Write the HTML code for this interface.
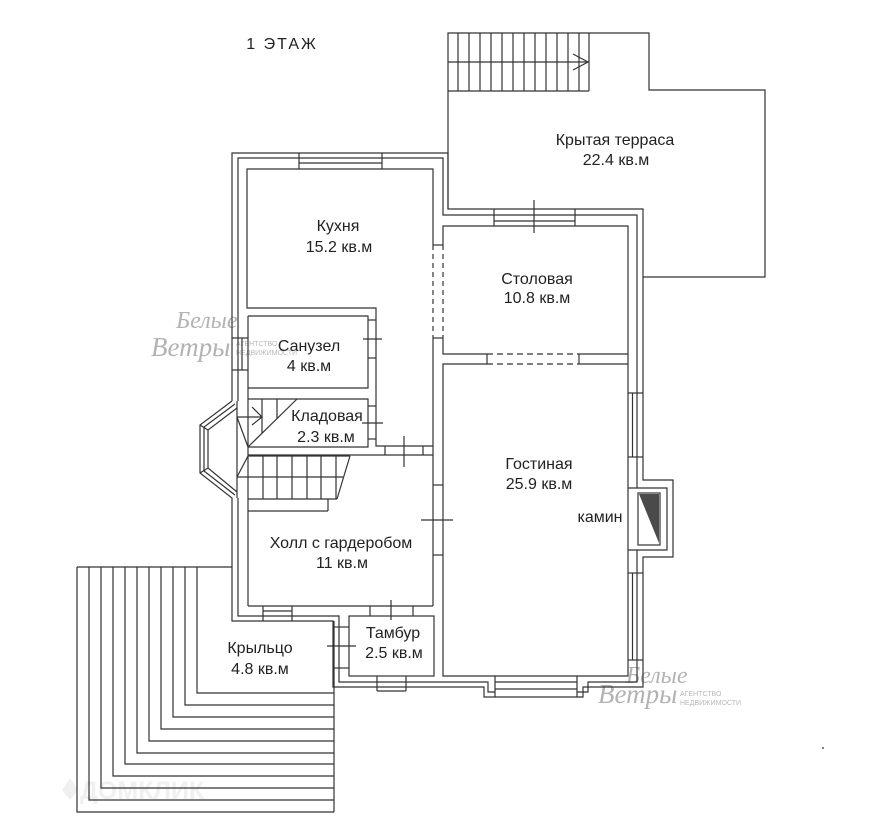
<!DOCTYPE html>
<html><head><meta charset="utf-8">
<style>
html,body{margin:0;padding:0;background:#fff;}
svg{display:block}
.t{font-family:"Liberation Sans","DejaVu Sans",sans-serif;fill:#222;font-size:16px;}
.wm{font-family:"Liberation Serif","DejaVu Serif",serif;font-style:italic;fill:#b3b3b3;}
.wms{font-family:"Liberation Sans","DejaVu Sans",sans-serif;fill:#b8b8b8;font-size:7px;}
</style></head><body>
<svg width="886" height="830" viewBox="0 0 886 830" xmlns="http://www.w3.org/2000/svg">

<!-- watermarks (behind) -->
<g>
  <text class="wm" x="176" y="328" font-size="24">Белые</text>
  <text class="wm" x="151" y="356" font-size="27">Ветры</text>
  <text class="wms" x="236" y="346">АГЕНТСТВО</text>
  <text class="wms" x="236" y="355">НЕДВИЖИМОСТИ</text>
  <text class="wm" x="626" y="683" font-size="24">Белые</text>
  <text class="wm" x="598" y="703" font-size="27">Ветры</text>
  <text class="wms" x="680" y="696">АГЕНТСТВО</text>
  <text class="wms" x="680" y="705">НЕДВИЖИМОСТИ</text>
  <text x="80" y="799" font-family="Liberation Sans, sans-serif" font-weight="bold" font-size="25" fill="#f0f0f0">ДОМКЛИК</text>
  <path d="M62,790 L70,778 L78,790 L70,800 Z" fill="#f0f0f0"/>
  <circle cx="823" cy="748" r="1" fill="#555"/>
</g>

<g fill="none" stroke="#333" stroke-width="1.2">
  <!-- terrace -->
  <polyline points="448,209 448,33 649,33 649,90 765,90 765,277 643,277"/>
  <line x1="448" y1="91" x2="589" y2="91"/>
  <line x1="448" y1="62" x2="589" y2="62"/>
  <line x1="458" y1="33" x2="458" y2="91"/>
  <line x1="469" y1="33" x2="469" y2="91"/>
  <line x1="480" y1="33" x2="480" y2="91"/>
  <line x1="491" y1="33" x2="491" y2="91"/>
  <line x1="502" y1="33" x2="502" y2="91"/>
  <line x1="513" y1="33" x2="513" y2="91"/>
  <line x1="524" y1="33" x2="524" y2="91"/>
  <line x1="535" y1="33" x2="535" y2="91"/>
  <line x1="546" y1="33" x2="546" y2="91"/>
  <line x1="557" y1="33" x2="557" y2="91"/>
  <line x1="568" y1="33" x2="568" y2="91"/>
  <line x1="579" y1="33" x2="579" y2="91"/>
  <line x1="589" y1="33" x2="589" y2="91"/>
  <polyline points="573,54 588,62 573,70"/>

  <!-- outer wall line A -->
  <polyline points="232,401 232,153 448,153 448,209 643,209 643,480 673,480 673,557 643,557 643,687 583,687 583,697 484,697 484,687 333,687 333,621 232,621 232,498 200,473 200,425 232,401"/>
  <!-- line B -->
  <polyline points="238,401 238,158 443,158 443,215 637,215 637,488"/>
  <polyline points="637,550 637,682 588,682 588,692 577,692"/>
  <polyline points="495,692 488,692 488,682 339,682 339,616 238,616 238,498"/>

  <!-- bay window -->
  <polyline points="235,404 204,427 204,471 235,495"/>
  <polyline points="237,408 208,430 208,468 237,492"/>
  <line x1="237" y1="401" x2="237" y2="498"/>
  <line x1="200" y1="425" x2="208" y2="430"/>
  <line x1="200" y1="473" x2="208" y2="468"/>

  <!-- kitchen -->
  <polyline points="433,245 433,169 247,169 247,308 376,308 376,446 433,446"/>
  <line x1="433" y1="338" x2="433" y2="606"/>
  <line x1="433" y1="245" x2="433" y2="338" stroke-dasharray="5,4"/>
  <line x1="443" y1="245" x2="443" y2="338" stroke-dasharray="5,4"/>
  <line x1="433" y1="245" x2="443" y2="245"/>
  <line x1="433" y1="338" x2="443" y2="338"/>

  <!-- stolovaya / gostinaya -->
  <polyline points="443,245 443,226 628,226 628,676 443,676 443,364 487,364"/>
  <polyline points="579,354 628,354"/>
  <polyline points="487,354 443,354 443,338"/>
  <line x1="579" y1="364" x2="628" y2="364"/>
  <line x1="487" y1="354" x2="579" y2="354" stroke-dasharray="6,4"/>
  <line x1="487" y1="364" x2="579" y2="364" stroke-dasharray="6,4"/>
  <line x1="487" y1="354" x2="487" y2="364"/>
  <line x1="579" y1="354" x2="579" y2="364"/>

  <!-- sanuzel, kladovaya -->
  <line x1="248" y1="316" x2="248" y2="606"/>
  <polyline points="248,316 368,316 368,388 248,388"/>
  <polyline points="248,399 368,399 368,447 248,447"/>
  <!-- hall -->
  <line x1="248" y1="455" x2="433" y2="455"/>
  <line x1="248" y1="606" x2="433" y2="606"/>
  <line x1="248" y1="511" x2="328" y2="511"/>
  <line x1="328" y1="499" x2="328" y2="511"/>
  <!-- tambur -->
  <rect x="349" y="616" width="85" height="60"/>

  <!-- stairs upper -->
  <line x1="297" y1="399" x2="248" y2="447"/>
  <line x1="262" y1="399" x2="262" y2="433"/>
  <line x1="277" y1="399" x2="277" y2="419"/>
  <line x1="237" y1="417" x2="262" y2="417"/>
  <line x1="237" y1="417" x2="248" y2="447"/>
  <polyline points="252,407 262,417 252,425"/>
  <!-- stairs lower -->
  <line x1="248" y1="456" x2="350" y2="456"/>
  <line x1="237" y1="477" x2="343" y2="477"/>
  <line x1="248" y1="499" x2="337" y2="499"/>
  <line x1="350" y1="456" x2="337" y2="499"/>
  <line x1="248" y1="456" x2="237" y2="477"/>
  <line x1="263" y1="456" x2="263" y2="499"/>
  <line x1="277" y1="456" x2="277" y2="499"/>
  <line x1="292" y1="456" x2="292" y2="499"/>
  <line x1="307" y1="456" x2="307" y2="499"/>
  <line x1="321" y1="456" x2="321" y2="499"/>
  <line x1="336" y1="456" x2="336" y2="499"/>

  <!-- doors -->
  <line x1="368" y1="320" x2="376" y2="320"/>
  <line x1="368" y1="358" x2="376" y2="358"/>
  <line x1="363" y1="339" x2="382" y2="339"/>
  <line x1="368" y1="406" x2="376" y2="406"/>
  <line x1="368" y1="439" x2="376" y2="439"/>
  <line x1="362" y1="423" x2="383" y2="423"/>
  <line x1="385" y1="446" x2="385" y2="455"/>
  <line x1="423" y1="446" x2="423" y2="455"/>
  <line x1="404" y1="436" x2="404" y2="467"/>
  <line x1="433" y1="485" x2="443" y2="485"/>
  <line x1="433" y1="555" x2="443" y2="555"/>
  <line x1="421" y1="520" x2="453" y2="520"/>
  <line x1="370" y1="606" x2="370" y2="616"/>
  <line x1="413" y1="606" x2="413" y2="616"/>
  <line x1="391" y1="600" x2="391" y2="620"/>
  <line x1="333" y1="627" x2="349" y2="627"/>
  <line x1="333" y1="668" x2="349" y2="668"/>
  <line x1="327" y1="646" x2="356" y2="646"/>

  <!-- windows -->
  <line x1="299" y1="153" x2="299" y2="169"/>
  <line x1="382" y1="153" x2="382" y2="169"/>
  <line x1="299" y1="163" x2="382" y2="163"/>
  <line x1="494" y1="209" x2="494" y2="226"/>
  <line x1="575" y1="209" x2="575" y2="226"/>
  <line x1="494" y1="221" x2="575" y2="221"/>
  <line x1="534" y1="200" x2="534" y2="233"/>
  <line x1="232" y1="338" x2="248" y2="338"/>
  <line x1="232" y1="370" x2="248" y2="370"/>
  <line x1="242" y1="338" x2="242" y2="370"/>
  <line x1="263" y1="606" x2="263" y2="621"/>
  <line x1="292" y1="606" x2="292" y2="621"/>
  <line x1="263" y1="611" x2="292" y2="611"/>
  <line x1="377" y1="676" x2="377" y2="691"/>
  <line x1="406" y1="676" x2="406" y2="691"/>
  <line x1="377" y1="691" x2="406" y2="691"/>
  <line x1="495" y1="676" x2="495" y2="697"/>
  <line x1="577" y1="676" x2="577" y2="697"/>
  <line x1="495" y1="682" x2="577" y2="682"/>
  <line x1="495" y1="689" x2="577" y2="689"/>
  <line x1="628" y1="393" x2="643" y2="393"/>
  <line x1="628" y1="457" x2="643" y2="457"/>
  <line x1="632.5" y1="393" x2="632.5" y2="457"/>
  <line x1="628" y1="573" x2="643" y2="573"/>
  <line x1="628" y1="660" x2="643" y2="660"/>
  <line x1="632.5" y1="573" x2="632.5" y2="660"/>

  <!-- fireplace -->
  <polyline points="628,488 667,488 667,550 628,550"/>
  <rect x="638" y="493" width="22" height="52"/>

  <!-- porch steps -->
  <line x1="77" y1="567" x2="232" y2="567"/>
  <line x1="334" y1="621" x2="334" y2="812"/>
  <polyline points="197,567 197,693 334,693"/>
  <polyline points="185,567 185,705 334,705"/>
  <polyline points="173,567 173,717 334,717"/>
  <polyline points="161,567 161,729 334,729"/>
  <polyline points="149,567 149,741 334,741"/>
  <polyline points="137,567 137,753 334,753"/>
  <polyline points="125,567 125,764 334,764"/>
  <polyline points="113,567 113,776 334,776"/>
  <polyline points="101,567 101,788 334,788"/>
  <polyline points="89,567 89,800 334,800"/>
  <polyline points="77,567 77,812 334,812"/>
</g>
<polygon points="639,494 659,494 659,543" fill="#4a4a4a"/>

<!-- labels -->
<text class="t" x="282" y="49" font-size="22" letter-spacing="2" text-anchor="middle">1 ЭТАЖ</text>
<text class="t" x="615" y="145" text-anchor="middle">Крытая терраса</text>
<text class="t" x="616" y="165" text-anchor="middle">22.4 кв.м</text>
<text class="t" x="338" y="231" text-anchor="middle">Кухня</text>
<text class="t" x="339" y="252" text-anchor="middle">15.2 кв.м</text>
<text class="t" x="309" y="351" text-anchor="middle">Санузел</text>
<text class="t" x="309" y="371" text-anchor="middle">4 кв.м</text>
<text class="t" x="327" y="421" text-anchor="middle">Кладовая</text>
<text class="t" x="326" y="442" text-anchor="middle">2.3 кв.м</text>
<text class="t" x="341" y="548" text-anchor="middle">Холл с гардеробом</text>
<text class="t" x="342" y="568" text-anchor="middle">11 кв.м</text>
<text class="t" x="537" y="284" text-anchor="middle">Столовая</text>
<text class="t" x="537" y="303" text-anchor="middle">10.8 кв.м</text>
<text class="t" x="539" y="469" text-anchor="middle">Гостиная</text>
<text class="t" x="539" y="489" text-anchor="middle">25.9 кв.м</text>
<text class="t" x="600" y="522" text-anchor="middle">камин</text>
<text class="t" x="393" y="638" text-anchor="middle">Тамбур</text>
<text class="t" x="394" y="658" text-anchor="middle">2.5 кв.м</text>
<text class="t" x="260" y="653" text-anchor="middle">Крыльцо</text>
<text class="t" x="260" y="674" text-anchor="middle">4.8 кв.м</text>
</svg>
</body></html>
